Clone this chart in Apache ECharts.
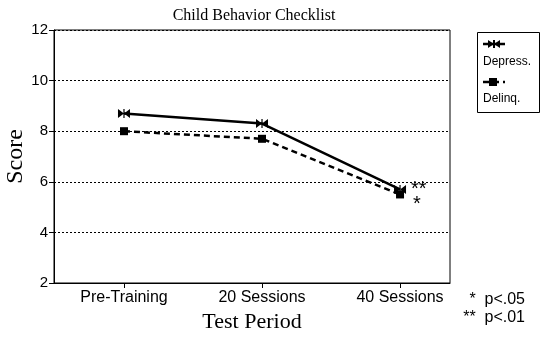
<!DOCTYPE html>
<html><head><meta charset="utf-8">
<script src="https://cdn.jsdelivr.net/npm/echarts@6/dist/echarts.min.js"></script>
<style>html,body{margin:0;padding:0;background:#fff}#c{width:544px;height:338px}</style>
</head><body><div id="c"></div>
<script>
const categories = ['Pre-Training', '20 Sessions', '40 Sessions'];
const depress = [8.7, 8.3, 5.7];
const delinq = [8.0, 7.7, 5.5];
const yTicks = [2, 4, 6, 8, 10, 12];
const seriesNames = ['Depress.', 'Delinq.'];

const bowtie = 'path://M0,0 L10,5 L0,10 Z M20,0 L10,5 L20,10 Z M9,0 L11,0 L11,10 L9,10 Z';
const toPts = arr => arr.map((v, i) => [i + 1, v]);

const chart = echarts.init(document.getElementById('c'), null, {renderer: 'canvas'});
const sans = 'Liberation Sans, Arial, sans-serif';
const serif = 'Liberation Serif, Times New Roman, serif';
chart.setOption({
  animation: false,
  backgroundColor: '#fff',
  title: {text: 'Child Behavior Checklist', left: 249, top: 3, textAlign: 'center',
    textStyle: {fontFamily: serif, fontSize: 16, fontWeight: 'normal', color: '#000'}},
  grid: {left: 54, right: 94, top: 30, bottom: 55, show: true, borderColor: '#000', borderWidth: 1,
    outerBoundsMode: 'none', containLabel: false},
  xAxis: {
    type: 'value', min: 0.493, max: 3.362,
    name: 'Test Period', nameLocation: 'middle', nameGap: 28, nameMoveOverlap: false,
    nameTextStyle: {fontFamily: serif, fontSize: 22, color: '#000'},
    axisLine: {show: true, lineStyle: {color: '#000', width: 1}},
    axisTick: {show: true, length: 5, lineStyle: {color: '#000'}, customValues: [1, 2, 3]},
    axisLabel: {customValues: [1, 2, 3], formatter: v => categories[Math.round(v) - 1] || '',
      fontFamily: sans, fontSize: 16, color: '#000', margin: 7},
    splitLine: {show: false}
  },
  yAxis: {
    type: 'value', min: 2, max: 12, interval: 2,
    name: 'Score', nameLocation: 'middle', nameGap: 26, nameRotate: 90, nameMoveOverlap: false,
    nameTextStyle: {fontFamily: serif, fontSize: 24, color: '#000'},
    axisLine: {show: true, lineStyle: {color: '#000', width: 1}},
    axisTick: {show: true, length: 5, lineStyle: {color: '#000'}},
    axisLabel: {fontFamily: sans, fontSize: 15, color: '#000', margin: 6,
      formatter: v => yTicks.includes(v) ? String(v) : ''},
    splitLine: {show: true, lineStyle: {color: '#000', type: [2, 2], width: 1}}
  },
  series: [
    {name: seriesNames[0], type: 'line', data: toPts(depress), symbol: bowtie, symbolSize: [12, 9],
      lineStyle: {color: '#000', width: 2.5}, itemStyle: {color: '#000'}, z: 3},
    {name: seriesNames[1], type: 'line', data: toPts(delinq), symbol: 'rect', symbolSize: 8,
      lineStyle: {color: '#000', width: 2.5, type: [6, 4]}, itemStyle: {color: '#000'}, z: 2}
  ],
  graphic: [
    {type: 'rect', shape: {x: 477.5, y: 32.5, width: 62, height: 80}, style: {fill: '#fff', stroke: '#000', lineWidth: 1}},
    {type: 'line', shape: {x1: 483, y1: 44, x2: 505, y2: 44}, style: {stroke: '#000', lineWidth: 2.5}},
    {type: 'polygon', shape: {points: [[488, 40], [494, 44], [488, 48]]}, style: {fill: '#000'}},
    {type: 'polygon', shape: {points: [[500, 40], [494, 44], [500, 48]]}, style: {fill: '#000'}},
    {type: 'rect', shape: {x: 493, y: 40, width: 2, height: 8}, style: {fill: '#000'}},
    {type: 'text', left: 483, top: 56, style: {text: seriesNames[0], fontFamily: sans, fontSize: 12, fill: '#000'}},
    {type: 'line', shape: {x1: 483, y1: 82, x2: 505, y2: 82}, style: {stroke: '#000', lineWidth: 2.5, lineDash: [6, 4]}},
    {type: 'rect', shape: {x: 489, y: 78, width: 8, height: 8}, style: {fill: '#000'}},
    {type: 'text', left: 483, top: 93, style: {text: seriesNames[1], fontFamily: sans, fontSize: 12, fill: '#000'}},
    {type: 'text', left: 411, top: 179, style: {text: '**', fontFamily: sans, fontSize: 20, fill: '#000'}},
    {type: 'text', left: 413, top: 194, style: {text: '*', fontFamily: sans, fontSize: 20, fill: '#000'}},
    {type: 'text', right: 19, top: 292, style: {text: '*  p<.05', fontFamily: sans, fontSize: 16, fill: '#000'}},
    {type: 'text', right: 19, top: 310, style: {text: '**  p<.01', fontFamily: sans, fontSize: 16, fill: '#000'}}
  ]
});
</script></body></html>
